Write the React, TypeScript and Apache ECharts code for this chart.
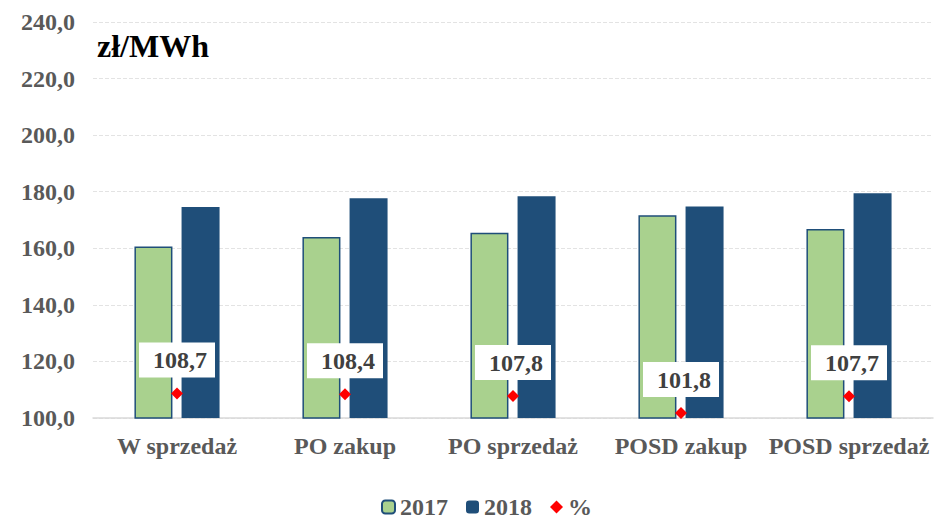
import React, { useEffect, useRef } from "react";
import * as echarts from "echarts";

const categories = ["W sprzedaż", "PO zakup", "PO sprzedaż", "POSD zakup", "POSD sprzedaż"];
const values2017 = [160.6, 164.0, 165.5, 171.7, 166.8];
const values2018 = [174.6, 177.7, 178.4, 174.8, 179.5];
const percent = [108.7, 108.4, 107.8, 101.8, 107.7];
const yTicks = { min: 100, max: 240, interval: 20 };

const FONT = "Liberation Serif";

export default function App() {
  const ref = useRef<HTMLDivElement>(null);
  useEffect(() => {
    if (!ref.current) return;
    const chart = echarts.init(ref.current, null, { renderer: "svg" });
    chart.setOption({
      animation: false,
      grid: { left: 93, right: 2, top: 22, bottom: 103 },
      graphic: [
        {
          type: "text",
          left: 97,
          top: 30,
          style: { text: "zł/MWh", fontFamily: FONT, fontWeight: "bold", fontSize: 32, fill: "#000000" },
        },
      ],
      legend: {
        bottom: 2,
        left: 376,
        padding: [0, 5, 0, 5],
        itemWidth: 13,
        itemHeight: 13,
        itemGap: 18,
        textStyle: { fontFamily: FONT, fontWeight: "bold", fontSize: 24, color: "#595959" },
        data: [
          { name: "2017", itemStyle: { color: "#A9D18E", borderColor: "#1F4E79", borderWidth: 2 } },
          { name: "2018" },
          { name: "%" },
        ],
      },
      xAxis: {
        type: "category",
        data: categories,
        axisTick: { show: false },
        axisLine: { lineStyle: { color: "#D9D9D9", width: 1.5 } },
        axisLabel: {
          interval: 0,
          fontFamily: FONT,
          fontWeight: "bold",
          fontSize: 24,
          color: "#595959",
          margin: 16,
        },
      },
      yAxis: {
        type: "value",
        min: yTicks.min,
        max: yTicks.max,
        interval: yTicks.interval,
        axisLine: { show: false },
        axisTick: { show: false },
        splitLine: { lineStyle: { color: "#E3E3E3", type: "dashed" } },
        axisLabel: {
          fontFamily: FONT,
          fontWeight: "bold",
          fontSize: 24,
          color: "#595959",
          margin: 18,
          formatter: (v: number) => v.toFixed(1).replace(".", ","),
        },
      },
      series: [
        {
          name: "2017",
          type: "bar",
          data: values2017,
          barWidth: 38,
          barGap: "24%",
          itemStyle: { color: "#A9D18E", borderColor: "#1F4E79", borderWidth: 1.5 },
        },
        {
          name: "2018",
          type: "bar",
          data: values2018,
          barWidth: 38,
          itemStyle: { color: "#1F4E79" },
        },
        {
          name: "%",
          type: "scatter",
          data: percent,
          symbol: "diamond",
          symbolSize: 12,
          itemStyle: { color: "#FF0000", opacity: 1 },
          z: 5,
          label: {
            show: true,
            position: "top",
            distance: 10,
            opacity: 1,
            formatter: (p: any) => Number(p.value).toFixed(1).replace(".", ","),
            fontFamily: FONT,
            fontWeight: "bold",
            fontSize: 24,
            color: "#404040",
            backgroundColor: "#FFFFFF",
            padding: [6, 8, 5, 14],
          },
        },
      ],
    });
    return () => chart.dispose();
  }, []);
  return (
    <div
      ref={ref}
      style={{ position: "absolute", left: 0, top: 0, width: 935, height: 521 }}
    />
  );
}
